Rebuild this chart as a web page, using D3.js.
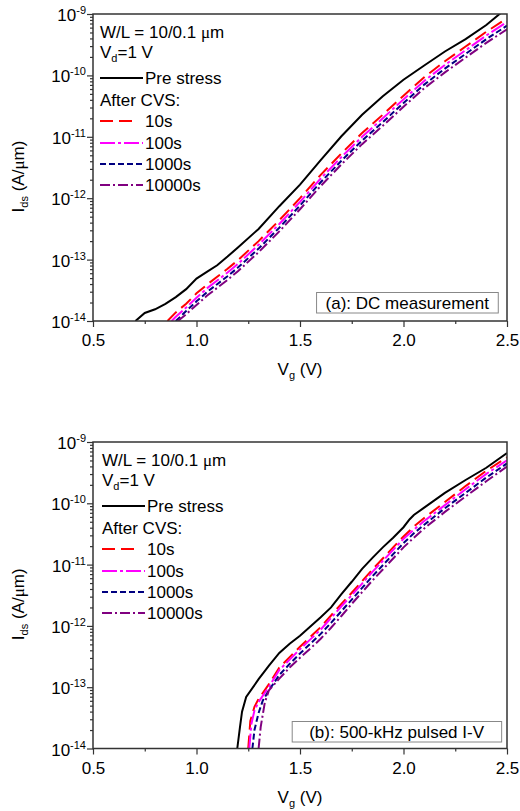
<!DOCTYPE html>
<html>
<head>
<meta charset="utf-8">
<script src="https://cdn.jsdelivr.net/npm/d3@7"></script>
<style>
    body { margin: 0; background: #fff; }
    text { font-family: "Liberation Sans", Arial, sans-serif; fill: #000; }
    .mu { font-family: "Liberation Serif", "DejaVu Serif", serif; }
</style>
</head>
<body>
<div id="viz"></div>
<script>
// Vg (V), Ids (A/um)
// (a) DC measurement
const dcPre = [[0.705,1.0e-14],[0.75,1.35e-14],[0.80,1.55e-14],[0.85,1.9e-14],[0.90,2.45e-14],[0.95,3.3e-14],[1.00,4.9e-14],[1.05,6.3e-14],[1.10,8.1e-14],[1.15,1.12e-13],[1.20,1.58e-13],[1.30,3.16e-13],[1.40,7.41e-13],[1.50,1.66e-12],[1.60,4.17e-12],[1.70,1.02e-11],[1.80,2.29e-11],[1.90,4.57e-11],[2.00,8.51e-11],[2.10,1.45e-10],[2.20,2.45e-10],[2.30,3.89e-10],[2.40,6.61e-10],[2.50,1.26e-9]];
const dc10s = [[0.86,1.0e-14],[0.90,1.38e-14],[0.95,1.91e-14],[1.00,2.82e-14],[1.05,3.89e-14],[1.10,5.25e-14],[1.15,7.08e-14],[1.20,9.77e-14],[1.30,2.0e-13],[1.40,4.37e-13],[1.50,1.0e-12],[1.60,2.40e-12],[1.70,5.37e-12],[1.80,1.15e-11],[1.90,2.29e-11],[2.00,4.68e-11],[2.10,9.33e-11],[2.20,1.70e-10],[2.30,2.95e-10],[2.40,5.13e-10],[2.50,8.51e-10]];
const dc100s = [[0.88,1.0e-14],[0.90,1.17e-14],[0.95,1.66e-14],[1.00,2.40e-14],[1.05,3.39e-14],[1.10,4.57e-14],[1.15,6.17e-14],[1.20,8.51e-14],[1.30,1.74e-13],[1.40,3.80e-13],[1.50,8.71e-13],[1.60,2.09e-12],[1.70,4.68e-12],[1.80,1.0e-11],[1.90,2.0e-11],[2.00,4.07e-11],[2.10,8.13e-11],[2.20,1.48e-10],[2.30,2.57e-10],[2.40,4.47e-10],[2.50,7.41e-10]];
const dc1000s = [[0.90,1.0e-14],[0.95,1.45e-14],[1.00,2.09e-14],[1.05,2.95e-14],[1.10,3.98e-14],[1.15,5.37e-14],[1.20,7.41e-14],[1.30,1.51e-13],[1.40,3.31e-13],[1.50,7.59e-13],[1.60,1.82e-12],[1.70,4.07e-12],[1.80,8.71e-12],[1.90,1.74e-11],[2.00,3.55e-11],[2.10,7.08e-11],[2.20,1.29e-10],[2.30,2.24e-10],[2.40,3.89e-10],[2.50,6.46e-10]];
const dc10000s = [[0.91,1.0e-14],[0.95,1.29e-14],[1.00,1.82e-14],[1.05,2.57e-14],[1.10,3.47e-14],[1.15,4.68e-14],[1.20,6.46e-14],[1.30,1.32e-13],[1.40,2.88e-13],[1.50,6.61e-13],[1.60,1.58e-12],[1.70,3.55e-12],[1.80,7.59e-12],[1.90,1.51e-11],[2.00,3.09e-11],[2.10,6.17e-11],[2.20,1.12e-10],[2.30,1.95e-10],[2.40,3.39e-10],[2.50,5.62e-10]];

// (b) 500-kHz pulsed I-V
const puPre = [[1.197,1.0e-14],[1.21,2.24e-14],[1.22,3.98e-14],[1.24,6.92e-14],[1.30,1.35e-13],[1.35,2.24e-13],[1.40,3.63e-13],[1.45,5.13e-13],[1.50,6.92e-13],[1.55,9.77e-13],[1.60,1.38e-12],[1.65,2.0e-12],[1.70,3.31e-12],[1.75,5.25e-12],[1.80,8.51e-12],[1.85,1.29e-11],[1.90,1.91e-11],[1.95,2.75e-11],[2.00,4.07e-11],[2.03,5.50e-11],[2.05,6.46e-11],[2.10,8.51e-11],[2.20,1.48e-10],[2.30,2.40e-10],[2.40,3.80e-10],[2.50,6.61e-10]];
const pu10s = [[1.25,1.0e-14],[1.26,2.82e-14],[1.28,4.79e-14],[1.30,6.46e-14],[1.35,1.12e-13],[1.40,2.09e-13],[1.45,3.09e-13],[1.50,4.57e-13],[1.55,6.61e-13],[1.60,9.55e-13],[1.65,1.48e-12],[1.70,2.29e-12],[1.75,3.47e-12],[1.80,5.37e-12],[1.85,8.32e-12],[1.90,1.26e-11],[1.95,1.91e-11],[2.00,2.88e-11],[2.05,4.17e-11],[2.10,5.75e-11],[2.20,1.05e-10],[2.30,1.91e-10],[2.40,3.39e-10],[2.50,5.62e-10]];
const pu100s = [[1.255,1.0e-14],[1.265,2.51e-14],[1.28,4.17e-14],[1.30,5.75e-14],[1.35,1.02e-13],[1.40,1.91e-13],[1.45,2.82e-13],[1.50,4.17e-13],[1.55,6.03e-13],[1.60,8.71e-13],[1.65,1.35e-12],[1.70,2.09e-12],[1.75,3.16e-12],[1.80,4.90e-12],[1.85,7.59e-12],[1.90,1.15e-11],[1.95,1.74e-11],[2.00,2.63e-11],[2.05,3.72e-11],[2.10,5.13e-11],[2.20,9.33e-11],[2.30,1.70e-10],[2.40,3.02e-10],[2.50,5.01e-10]];
const pu1000s = [[1.27,1.0e-14],[1.28,2.0e-14],[1.30,3.80e-14],[1.32,6.03e-14],[1.35,8.91e-14],[1.40,1.58e-13],[1.45,2.40e-13],[1.50,3.55e-13],[1.55,5.13e-13],[1.60,7.41e-13],[1.65,1.12e-12],[1.70,1.74e-12],[1.75,2.69e-12],[1.80,4.17e-12],[1.85,6.46e-12],[1.90,9.77e-12],[1.95,1.48e-11],[2.00,2.24e-11],[2.05,3.24e-11],[2.10,4.47e-11],[2.20,8.32e-11],[2.30,1.48e-10],[2.40,2.63e-10],[2.50,4.47e-10]];
const pu10000s = [[1.30,1.0e-14],[1.31,2.24e-14],[1.33,5.62e-14],[1.35,8.91e-14],[1.40,1.38e-13],[1.45,2.09e-13],[1.50,3.02e-13],[1.55,4.27e-13],[1.60,6.17e-13],[1.65,9.33e-13],[1.70,1.45e-12],[1.75,2.29e-12],[1.80,3.55e-12],[1.85,5.50e-12],[1.90,8.32e-12],[1.95,1.26e-11],[2.00,1.91e-11],[2.05,2.75e-11],[2.10,3.89e-11],[2.20,7.24e-11],[2.30,1.29e-10],[2.40,2.29e-10],[2.50,3.98e-10]];

const seriesNames = ["Pre stress", "10s", "100s", "1000s", "10000s"];
const xTicks = [0.5, 1.0, 1.5, 2.0, 2.5];
const xMinorTicks = [0.75, 1.25, 1.75, 2.25];
const yTicks = [1e-14, 1e-13, 1e-12, 1e-11, 1e-10, 1e-9];
const yExponents = ["-14", "-13", "-12", "-11", "-10", "-9"];
const panelLabels = ["(a): DC measurement", "(b): 500-kHz pulsed I-V"];

const colors = ["#000000", "#ff0000", "#ff00ff", "#000080", "#800080"];
const dashes = [null, "13,6", "15,3,3,3", "6,3", "10,3,2,3"];
const sampleLen = [43, 33, 43, 43, 43];

const width = 520;
const height = 811;
const fs = 17;

const svg = d3.select("#viz")
    .append("svg")
    .attr("width", width)
    .attr("height", height);

const left = 93, right = 507;

const panels = [
    {top: 14, bottom: 321, data: [dcPre, dc10s, dc100s, dc1000s, dc10000s], label: panelLabels[0], boxR: 498, boxB: 313, padX: 9, lx: 100},
    {top: 442, bottom: 748.5, data: [puPre, pu10s, pu100s, pu1000s, pu10000s], label: panelLabels[1], boxR: 501, boxB: 742, padX: 17, lx: 102}
];

// minor log ticks 2..9 per decade
const yMinor = [];
yTicks.slice(0, -1).forEach(d => {
    for (let k = 2; k <= 9; k++) yMinor.push(d * k);
});

panels.forEach((p, pi) => {
    const x = d3.scaleLinear().domain([0.5, 2.5]).range([left, right]);
    const y = d3.scaleLog().domain([1e-14, 1e-9]).range([p.bottom, p.top]);

    const g = svg.append("g");

    g.append("clipPath").attr("id", "clip" + pi)
        .append("rect")
        .attr("x", left).attr("y", p.top)
        .attr("width", right - left).attr("height", p.bottom - p.top);

    // curves
    const line = d3.line().x(d => x(d[0])).y(d => y(d[1]));
    const curves = g.append("g").attr("clip-path", `url(#clip${pi})`);
    p.data.forEach((s, i) => {
        curves.append("path")
            .datum(s)
            .attr("d", line)
            .attr("fill", "none")
            .attr("stroke", colors[i])
            .attr("stroke-width", 2)
            .attr("stroke-dasharray", dashes[i]);
    });

    // x axis
    const xAxisG = g.append("g")
        .attr("transform", `translate(0, ${p.bottom})`)
        .call(d3.axisBottom(x).tickValues(xTicks).tickSize(6).tickPadding(7).tickFormat(d3.format(".1f")));
    g.append("g")
        .attr("transform", `translate(0, ${p.bottom})`)
        .call(d3.axisBottom(x).tickValues(xMinorTicks).tickSize(3).tickFormat(""));

    // y axis
    g.append("g")
        .attr("transform", `translate(${left}, 0)`)
        .call(d3.axisLeft(y).tickValues(yTicks).tickSize(6).tickFormat(""));
    g.append("g")
        .attr("transform", `translate(${left}, 0)`)
        .call(d3.axisLeft(y).tickValues(yMinor).tickSize(3).tickFormat(""));

    g.selectAll(".domain").remove();
    g.selectAll(".tick line").attr("stroke", "#333").attr("stroke-width", 1.2);
    xAxisG.selectAll("text")
        .attr("font-size", fs)
        .attr("font-family", "Liberation Sans, Arial, sans-serif")
        .attr("fill", "#000");

    yTicks.forEach((t, i) => {
        const lab = g.append("text")
            .attr("x", left - 7)
            .attr("y", y(t) + 7)
            .attr("text-anchor", "end")
            .attr("font-size", fs);
        lab.append("tspan").text("10");
        lab.append("tspan").attr("font-size", 11).attr("dy", -7).text(yExponents[i]);
    });

    // frame
    g.append("rect")
        .attr("x", left).attr("y", p.top)
        .attr("width", right - left).attr("height", p.bottom - p.top)
        .attr("fill", "none")
        .attr("stroke", "#333")
        .attr("stroke-width", 1.5);

    // axis titles
    const xt = g.append("text")
        .attr("x", (left + right) / 2)
        .attr("y", p.bottom + 54)
        .attr("text-anchor", "middle")
        .attr("font-size", fs);
    xt.append("tspan").text("V");
    xt.append("tspan").attr("font-size", 11).attr("dy", 4).text("g");
    xt.append("tspan").attr("dy", -4).text(" (V)");

    const yt = g.append("text")
        .attr("transform", `translate(24, ${(p.top + p.bottom) / 2 + 9}) rotate(-90)`)
        .attr("text-anchor", "middle")
        .attr("font-size", fs);
    yt.append("tspan").text("I");
    yt.append("tspan").attr("font-size", 11).attr("dy", 4).text("ds");
    yt.append("tspan").attr("dy", -4).text(" (A/");
    yt.append("tspan").attr("class", "mu").text("\u03bc");
    yt.append("tspan").text("m)");

    // legend
    const lx = p.lx;
    const rows = [24, 44, 70, 92, 113, 135, 156, 177].map(d => p.top + d);
    const wl = g.append("text").attr("x", lx).attr("y", rows[0]).attr("font-size", fs);
    wl.append("tspan").text("W/L = 10/0.1 ");
    wl.append("tspan").attr("class", "mu").text("\u03bc");
    wl.append("tspan").text("m");
    const vd = g.append("text").attr("x", lx).attr("y", rows[1]).attr("font-size", fs);
    vd.append("tspan").text("V");
    vd.append("tspan").attr("font-size", 11).attr("dy", 4).text("d");
    vd.append("tspan").attr("dy", -4).text("=1 V");
    g.append("text").attr("x", lx).attr("y", rows[3]).attr("font-size", fs)
        .text("After CVS:");

    const legendRows = [rows[2], rows[4], rows[5], rows[6], rows[7]];
    seriesNames.forEach((name, i) => {
        g.append("line")
            .attr("x1", lx).attr("x2", lx + sampleLen[i])
            .attr("y1", legendRows[i] - 6).attr("y2", legendRows[i] - 6)
            .attr("stroke", colors[i])
            .attr("stroke-width", 2)
            .attr("stroke-dasharray", dashes[i]);
        g.append("text")
            .attr("x", lx + 45)
            .attr("y", legendRows[i])
            .attr("font-size", fs)
            .text(name);
    });

    // panel label box
    const lt = g.append("text")
        .attr("x", p.boxR - p.padX)
        .attr("y", p.boxB - 4.5)
        .attr("text-anchor", "end")
        .attr("font-size", fs)
        .text(p.label);
    const bb = lt.node().getBBox();
    g.append("rect")
        .attr("x", bb.x - p.padX)
        .attr("y", p.boxB - 20.5)
        .attr("width", bb.width + 2 * p.padX)
        .attr("height", 20.5)
        .attr("fill", "#fff")
        .attr("stroke", "#888")
        .attr("stroke-width", 1);
    lt.raise();
});
</script>
</body>
</html>
